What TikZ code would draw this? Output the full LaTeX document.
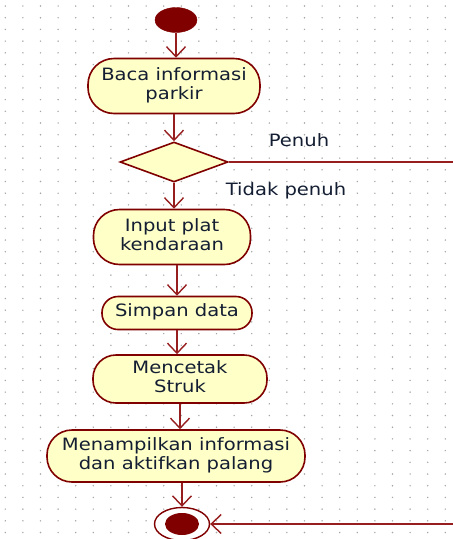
\documentclass[tikz,border=0pt]{standalone}
\usepackage{fontspec}
\setmainfont{DejaVu Sans}
\usetikzlibrary{shapes.geometric,arrows.meta}
\definecolor{umlborder}{RGB}{128,0,0}
\definecolor{umlline}{RGB}{150,30,30}
\definecolor{umlfill}{RGB}{255,255,200}
\definecolor{umltext}{RGB}{20,30,50}
\definecolor{griddot}{RGB}{165,165,165}
\newcommand{\lbl}[1]{\scalebox{1.15}[1]{\begin{tabular}{@{}c@{}}#1\end{tabular}}}
\begin{document}
\begin{tikzpicture}[x=1pt,y=-1pt,
  act/.style={draw=umlborder, line width=1.6pt, fill=umlfill, inner sep=0pt,
    text=umltext, font=\fontsize{17}{19.5}\selectfont},
  dec/.style={diamond, draw=umlborder, line width=1.6pt, fill=umlfill, inner sep=0pt,
    minimum width=108pt, minimum height=40pt},
  guard/.style={text=umltext, font=\fontsize{17}{19.5}\selectfont, inner sep=0pt},
  flow/.style={draw=umlline, line width=1.4pt},
  conn/.style={flow, -{Straight Barb[length=10pt,width=19pt,line width=1.4pt]}}
]
\fill[white] (0,0) rectangle (453,539);
\useasboundingbox (0,0) rectangle (453,539);
\foreach \i in {0,...,25}
  \foreach \j in {0,...,45}
    \fill[griddot] (5.3+17.6*\i, 6+11.7*\j) circle (0.8pt);

\node[ellipse, fill=umlborder, draw=umlborder, minimum width=42pt, minimum height=25pt, inner sep=0pt] (start) at (176,20) {};
\node[act, rounded corners=26pt, minimum width=172pt, minimum height=55pt] (baca) at (174,86) {\lbl{Baca informasi\\parkir}};
\node[dec] (cek) at (174,162) {};
\node[act, rounded corners=26pt, minimum width=157pt, minimum height=55pt] (input) at (172,237) {\lbl{Input plat\\kendaraan}};
\node[act, rounded corners=16pt, minimum width=150pt, minimum height=33pt] (simpan) at (177,313) {\lbl{Simpan data}};
\node[act, rounded corners=23pt, minimum width=174pt, minimum height=48pt] (cetak) at (180,379) {\lbl{Mencetak\\Struk}};
\node[act, rounded corners=25pt, minimum width=258pt, minimum height=52pt] (tampil) at (176,456) {\lbl{Menampilkan informasi\\dan aktifkan palang}};
\node[ellipse, draw=umlborder, line width=1.4pt, fill=white, minimum width=55pt, minimum height=33pt, inner sep=0pt] (end) at (182,524) {};
\fill[umlborder] (end.center) ellipse [x radius=17pt, y radius=11pt];

\node[guard] (penuh) at (299,143) {\lbl{Penuh}};
\node[guard] (tidak) at (286,192) {\lbl{Tidak penuh}};

\coordinate (pr) at (453,162);
\coordinate (pe) at (453,524);

\draw[conn] (start.south) -- (start.south |- baca.north);
\draw[conn] (baca.south) -- (baca.south |- cek.north);
\draw[flow] (cek.east) -- (pr);
\draw[conn] (cek.south) -- (cek.south |- input.north);
\draw[conn] (simpan.north |- input.south) -- (simpan.north);
\draw[conn] (simpan.south) -- (simpan.south |- cetak.north);
\draw[conn] (cetak.south) -- (cetak.south |- tampil.north);
\draw[conn] (end.north |- tampil.south) -- (end.north);
\draw[conn] (pe) -- (end.east);
\end{tikzpicture}
\end{document}
